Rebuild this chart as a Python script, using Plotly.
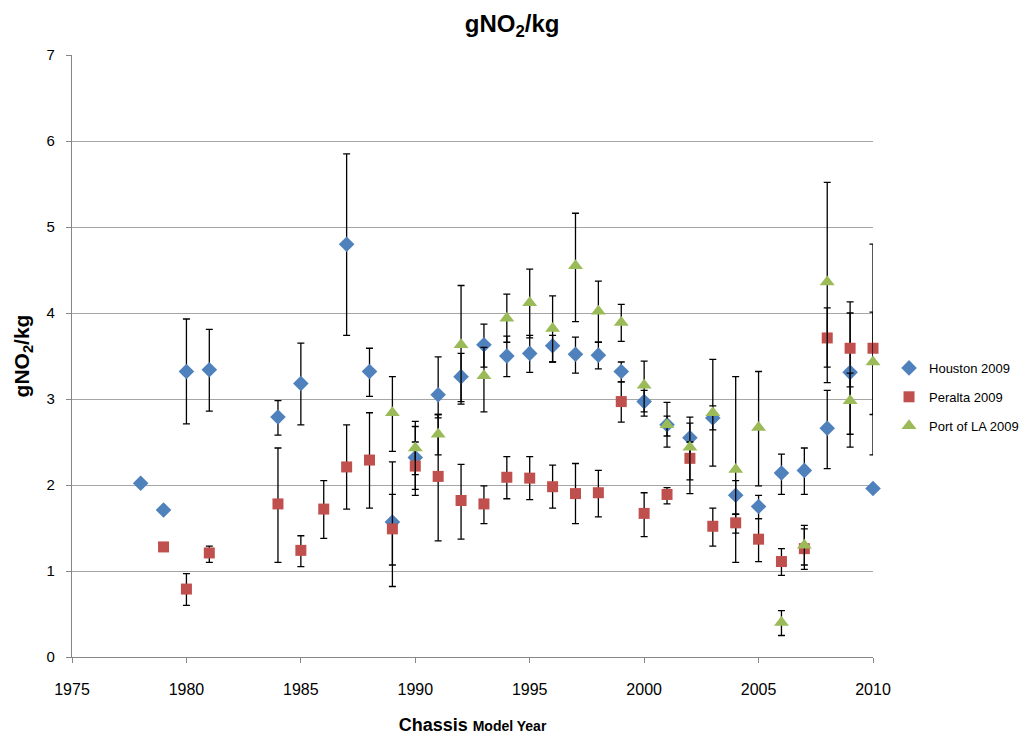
import plotly.graph_objects as go

# ---- Data ----
houston_years = [1978, 1979, 1980, 1981, 1984, 1985, 1987, 1988, 1989, 1990, 1991, 1992, 1993, 1994, 1995,
                 1996, 1997, 1998, 1999, 2000, 2001, 2002, 2003, 2004, 2005, 2006, 2007, 2008, 2009, 2010]
houston_vals = [2.02, 1.71, 3.32, 3.34, 2.79, 3.18, 4.80, 3.32, 1.57, 2.32, 3.05, 3.26, 3.63, 3.50, 3.53,
                3.62, 3.52, 3.51, 3.32, 2.97, 2.70, 2.55, 2.78, 1.88, 1.75, 2.14, 2.17, 2.66, 3.31, 1.96]
houston_hi = [None, None, 3.93, 3.81, 2.98, 3.65, 5.85, 3.59, 1.89, 2.68, 3.49, 3.53, 3.87, 3.73, 3.74,
              3.74, 3.72, 3.66, 3.43, 3.10, 2.96, 2.79, 2.92, 2.05, 1.88, 2.36, 2.43, 3.10, 4.00, None]
houston_lo = [None, None, 2.71, 2.86, 2.58, 2.70, 3.74, 3.03, 1.07, 1.95, 2.78, 2.94, 3.37, 3.26, 3.31,
              3.43, 3.30, 3.35, 3.20, 2.80, 2.57, 2.30, 2.22, 1.44, 1.61, 1.89, 1.89, 2.19, 2.59, None]

peralta_years = [1979, 1980, 1981, 1984, 1985, 1986, 1987, 1988, 1989, 1990, 1991, 1992, 1993, 1994, 1995,
                 1996, 1997, 1998, 1999, 2000, 2001, 2002, 2003, 2004, 2005, 2006, 2007, 2008, 2009, 2010]
peralta_vals = [1.28, 0.79, 1.21, 1.78, 1.24, 1.72, 2.21, 2.29, 1.49, 2.22, 2.10, 1.82, 1.78, 2.09, 2.08,
                1.98, 1.90, 1.91, 2.97, 1.67, 1.89, 2.31, 1.52, 1.56, 1.37, 1.11, 1.26, 3.71, 3.59, 3.59]
peralta_hi = [None, 0.97, 1.29, 2.43, 1.41, 2.05, 2.70, 2.84, 2.27, 2.50, 2.82, 2.24, 1.99, 2.33, 2.33,
              2.23, 2.25, 2.17, 3.20, 1.91, 1.97, 2.50, 1.73, 1.66, 1.61, 1.26, 1.49, 4.06, 4.13, 4.01]
peralta_lo = [None, 0.60, 1.10, 1.10, 1.05, 1.38, 1.72, 1.73, 0.82, 1.88, 1.35, 1.37, 1.55, 1.84, 1.83,
              1.73, 1.55, 1.63, 2.73, 1.40, 1.78, 1.90, 1.29, 1.10, 1.11, 0.95, 1.02, 3.37, 3.14, 2.82]

portla_years = [1989, 1990, 1991, 1992, 1993, 1994, 1995, 1996, 1997, 1998, 1999,
                2000, 2001, 2002, 2003, 2004, 2005, 2006, 2007, 2008, 2009, 2010]
portla_vals = [2.84, 2.43, 2.59, 3.63, 3.27, 3.94, 4.12, 3.82, 4.55, 4.02, 3.89,
               3.16, 2.70, 2.44, 2.84, 2.18, 2.67, 0.40, 1.30, 4.36, 2.98, 3.43]
portla_hi = [3.26, 2.74, 2.82, 4.32, 3.60, 4.22, 4.51, 4.20, 5.16, 4.37, 4.10,
             3.44, 2.80, 2.72, 3.46, 3.26, 3.32, 0.54, 1.53, 5.52, 3.30, 4.80]
portla_lo = [2.39, 2.12, 2.35, 2.97, 2.85, 3.66, 3.71, 3.43, 3.90, 3.66, 3.67,
             2.85, 2.44, 2.06, 2.64, 1.66, 1.99, 0.25, 1.07, 3.19, 2.44, 2.35]

x_ticks = [1975, 1980, 1985, 1990, 1995, 2000, 2005, 2010]
y_ticks = [0, 1, 2, 3, 4, 5, 6, 7]

FONT = "Liberation Sans Narrow, Arial Narrow, Liberation Sans, sans-serif"


def err(vals, hi, lo):
    plus = [None if h is None else round(h - v, 3) for v, h in zip(vals, hi)]
    minus = [None if l is None else round(v - l, 3) for v, l in zip(vals, lo)]
    return plus, minus


series = [
    ("Houston 2009", houston_years, houston_vals, houston_hi, houston_lo, "#4F81BD", "diamond", 12),
    ("Peralta 2009", peralta_years, peralta_vals, peralta_hi, peralta_lo, "#C0504D", "square", 11),
    ("Port of LA 2009", portla_years, portla_vals, portla_hi, portla_lo, "#9BBB59", "triangle-up", 13),
]

fig = go.Figure()
for name, xs, vs, hi, lo, color, sym, size in series:
    plus, minus = err(vs, hi, lo)
    fig.add_trace(go.Scatter(
        x=xs, y=vs, name=name, mode="markers", legendgroup=name, cliponaxis=False,
        marker=dict(color=color, symbol=sym, size=size, line=dict(width=0)),
        error_y=dict(type="data", symmetric=False, array=plus, arrayminus=minus,
                     color="black", thickness=1.3, width=3.5),
    ))

fig.update_layout(
    width=1031, height=740,
    margin=dict(l=64, r=166, t=47, b=91, autoexpand=False),
    paper_bgcolor="white", plot_bgcolor="white",
    font=dict(family=FONT, size=14, color="black"),
    title=dict(text="<b>gNO<sub>2</sub>/kg</b>", x=0.489, xanchor="center", y=0.979, yanchor="middle",
               font=dict(family=FONT, size=24, color="black")),
    legend=dict(x=1.02, y=0.432, xanchor="left", yanchor="middle",
                font=dict(family=FONT, size=13), tracegroupgap=9, bgcolor="rgba(0,0,0,0)",
                itemwidth=30),
    showlegend=True,
)
fig.update_xaxes(
    range=[1975, 2010], tickvals=x_ticks, ticktext=[str(t) for t in x_ticks],
    showgrid=False, zeroline=False, showline=True, linecolor="#868686", linewidth=1.3,
    ticks="outside", ticklen=5, tickcolor="#868686", ticklabelstandoff=13, automargin=False,
    tickfont=dict(family=FONT, size=16),
    title=dict(text="<b>Chassis <span style='font-size:14px'>Model Year</span></b>",
               font=dict(family=FONT, size=18), standoff=21),
)
fig.update_yaxes(
    range=[0, 7], tickvals=y_ticks, showgrid=True, gridcolor="#A6A6A6", gridwidth=1.3,
    zeroline=False, showline=True, linecolor="#868686", linewidth=1.3,
    ticks="outside", ticklen=5, tickcolor="#868686", ticklabelstandoff=8, automargin=False,
    tickfont=dict(family=FONT, size=15),
    title=dict(text="<b>gNO<sub>2</sub>/kg</b>", font=dict(family=FONT, size=21), standoff=11),
)

fig.write_html("out.html")
